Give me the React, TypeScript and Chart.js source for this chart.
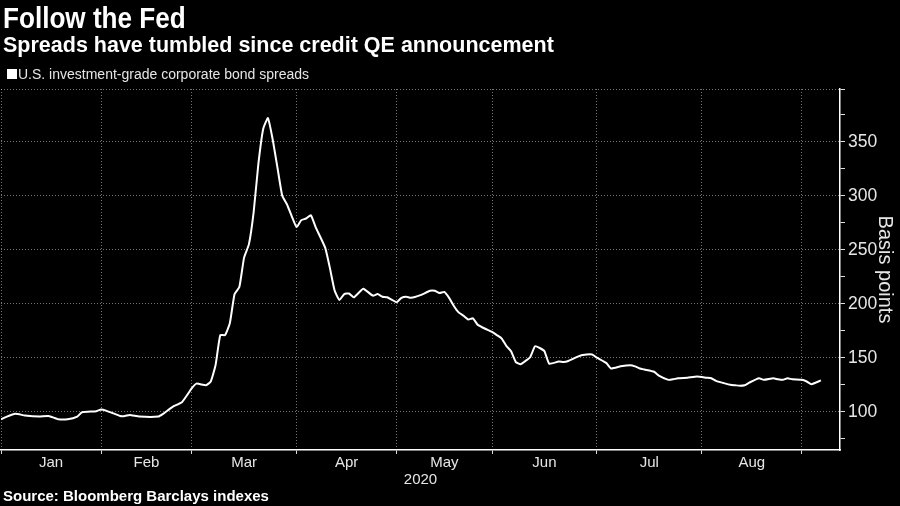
import React, { useEffect, useRef } from 'react';
import { Chart, registerables } from 'chart.js';

Chart.register(...registerables);

const TITLE = 'Follow the Fed';
const SUBTITLE = 'Spreads have tumbled since credit QE announcement';
const SERIES_NAME = 'U.S. investment-grade corporate bond spreads';
const SOURCE = 'Source: Bloomberg Barclays indexes';
const X_TITLE = '2020';
const Y_TITLE = 'Basis points';

// x = trading-day index since Jan 2, 2020
const tradingDay = [
  0, 1, 3, 5, 8, 10, 12, 14, 16, 17, 20, 21, 22, 25, 26, 27, 29, 33, 34, 36, 38, 40, 41, 43, 44,
  45, 46, 47, 48, 49, 50, 51, 52, 53, 54, 55, 56, 57, 58, 59, 60, 61, 62, 63, 64, 65, 66, 68, 69,
  70, 71, 72, 73, 74, 75, 76, 78, 79, 80, 81, 83, 84, 85, 86, 88, 90, 91, 92, 93, 94, 95, 96, 97,
  98, 99, 100, 101, 102, 103, 104, 105, 106, 107, 108, 109, 110, 111, 112, 113, 114, 115, 117,
  118, 119, 121, 122, 124, 125, 127, 128, 130, 132, 133, 134, 135, 137, 138, 140, 141, 142, 144,
  146, 148, 149, 150, 152, 153, 154, 155, 156, 157, 159, 160, 162, 163, 164, 165, 166, 168, 169,
  170, 172,
];
const spreads = [
  93, 95, 98, 96.5, 95.5, 96, 93, 93, 95.5, 99.5, 100.5, 102, 101, 96, 96, 97, 95.5, 95.5, 98,
  104.5, 109, 121.5, 126, 124.5, 128,
  143, 171, 171, 182, 209, 215.5, 243, 255, 285, 330, 362, 372, 352, 326, 300, 292, 281, 271,
  277.5, 279, 282, 271, 252, 233,
  212, 203.5, 209, 209.5, 206, 210, 214, 207.5, 209, 206.5, 206, 201.5, 205.5, 206.5, 205.5, 208,
  212, 212, 210, 211, 205.5, 198, 192, 189,
  185.5, 186.5, 180.5, 178, 176, 174, 171, 168, 161, 156, 146, 144, 147, 150.5, 160.5, 159, 156,
  144.5, 146.5,
  146, 147, 151, 152.5, 153, 150, 145, 140, 142, 143, 142, 140, 139, 137, 133.5, 129.5, 130, 131,
  131.5,
  132.5, 131.5, 131, 128.5, 126, 125, 124.5, 124, 124.5, 127, 131, 129.5, 131, 130, 129.5, 131,
  130, 129.5, 128,
  125.5, 129,
];

const monthStarts = [0, 21, 40, 62, 83, 103, 125, 147, 168];
const monthMids = [10.5, 30.5, 51, 72.5, 93, 114, 136, 157.5];
const monthLabels = ['Jan', 'Feb', 'Mar', 'Apr', 'May', 'Jun', 'Jul', 'Aug'];
const yLabelTicks = [100, 150, 200, 250, 300, 350];
const yMinorTicks = [75, 125, 175, 225, 275, 325, 375];
const Y_MIN = 64.5;
const Y_MAX = 399;
const X_MAX = 176;

const FONT = "'Liberation Sans', Arial, sans-serif";
const GRID = 'rgba(255,255,255,0.45)';
const TXT = '#e6e6e6';

export default function App() {
  const ref = useRef<HTMLCanvasElement>(null);

  useEffect(() => {
    document.body.style.margin = '0';
    document.body.style.background = '#000';
    const chart = new Chart(ref.current as HTMLCanvasElement, {
      type: 'line',
      data: {
        datasets: [
          {
            label: SERIES_NAME,
            data: tradingDay.map((x, i) => ({ x, y: spreads[i] })),
            borderColor: '#ffffff',
            borderWidth: 2,
            pointRadius: 0,
            tension: 0.15,
            fill: false,
          },
        ],
      },
      options: {
        animation: false,
        responsive: false,
        devicePixelRatio: 1,
        layout: { padding: { top: 89, left: 1, right: 0, bottom: 0 } },
        plugins: { legend: { display: false }, tooltip: { enabled: false } },
        scales: {
          x: {
            type: 'linear',
            min: 0,
            max: X_MAX,
            afterBuildTicks: (s: any) => {
              s.ticks = [...monthStarts, ...monthMids].sort((a, b) => a - b).map((v) => ({ value: v }));
            },
            afterFit: (s: any) => {
              s.height = 56;
            },
            ticks: {
              autoSkip: false,
              maxRotation: 0,
              minRotation: 0,
              color: TXT,
              padding: 0,
              font: { family: FONT, size: 15 },
              callback: (v: any) => {
                const i = monthMids.indexOf(Number(v));
                return i >= 0 ? monthLabels[i] : '';
              },
            },
            grid: {
              color: (c: any) => (c.tick && monthStarts.includes(c.tick.value) ? GRID : 'transparent'),
              tickColor: (c: any) => (c.tick && monthStarts.includes(c.tick.value) ? '#dddddd' : 'transparent'),
              tickLength: 4,
              lineWidth: 1,
            },
            border: { display: true, color: '#ffffff', width: 1.5, dash: [1, 2] },
            title: {
              display: true,
              text: X_TITLE,
              color: TXT,
              font: { family: FONT, size: 15 },
              padding: { top: 0, bottom: 17 },
            },
          },
          y: {
            type: 'linear',
            position: 'right',
            min: Y_MIN,
            max: Y_MAX,
            afterBuildTicks: (s: any) => {
              s.ticks = [...yMinorTicks, ...yLabelTicks, Y_MAX].sort((a, b) => a - b).map((v) => ({ value: v }));
            },
            afterFit: (s: any) => {
              s.width = 60;
            },
            ticks: {
              autoSkip: false,
              color: TXT,
              padding: 3,
              font: { family: FONT, size: 17.5 },
              callback: (v: any) => (yLabelTicks.includes(Number(v)) ? String(v) : ''),
            },
            grid: {
              color: (c: any) =>
                c.tick && (yLabelTicks.includes(c.tick.value) || c.tick.value === Y_MAX) ? GRID : 'transparent',
              tickColor: '#dddddd',
              tickLength: 5,
              lineWidth: 1,
            },
            border: { display: true, color: '#ffffff', width: 1.5, dash: [1, 2] },
            title: {
              display: true,
              text: Y_TITLE,
              color: TXT,
              font: { family: FONT, size: 20 },
              padding: { top: 3, bottom: 0 },
            },
          },
        },
      },
    } as any);
    return () => chart.destroy();
  }, []);

  return (
    <div style={{ position: 'relative', width: 900, height: 506, background: '#000', overflow: 'hidden' }}>
      <canvas ref={ref} width={900} height={506} style={{ position: 'absolute', left: 0, top: 0 }} />
      <div
        style={{
          position: 'absolute', left: 3, top: 3, fontFamily: FONT, fontWeight: 700, fontSize: 30,
          lineHeight: '30px', color: '#fff', whiteSpace: 'nowrap', transform: 'scaleX(0.87)', transformOrigin: 'left top',
        }}
      >
        {TITLE}
      </div>
      <div
        style={{
          position: 'absolute', left: 3, top: 35, fontFamily: FONT, fontWeight: 700, fontSize: 21.5,
          lineHeight: '21.5px', color: '#fff', whiteSpace: 'nowrap',
        }}
      >
        {SUBTITLE}
      </div>
      <div style={{ position: 'absolute', left: 7, top: 69, width: 10, height: 10, background: '#fff' }} />
      <div
        style={{
          position: 'absolute', left: 18, top: 67, fontFamily: FONT, fontSize: 14, lineHeight: '14px',
          color: TXT, whiteSpace: 'nowrap',
        }}
      >
        {SERIES_NAME}
      </div>
      <div
        style={{
          position: 'absolute', left: 3, top: 488, fontFamily: FONT, fontWeight: 700, fontSize: 15,
          lineHeight: '15px', color: '#fff', whiteSpace: 'nowrap',
        }}
      >
        {SOURCE}
      </div>
    </div>
  );
}
